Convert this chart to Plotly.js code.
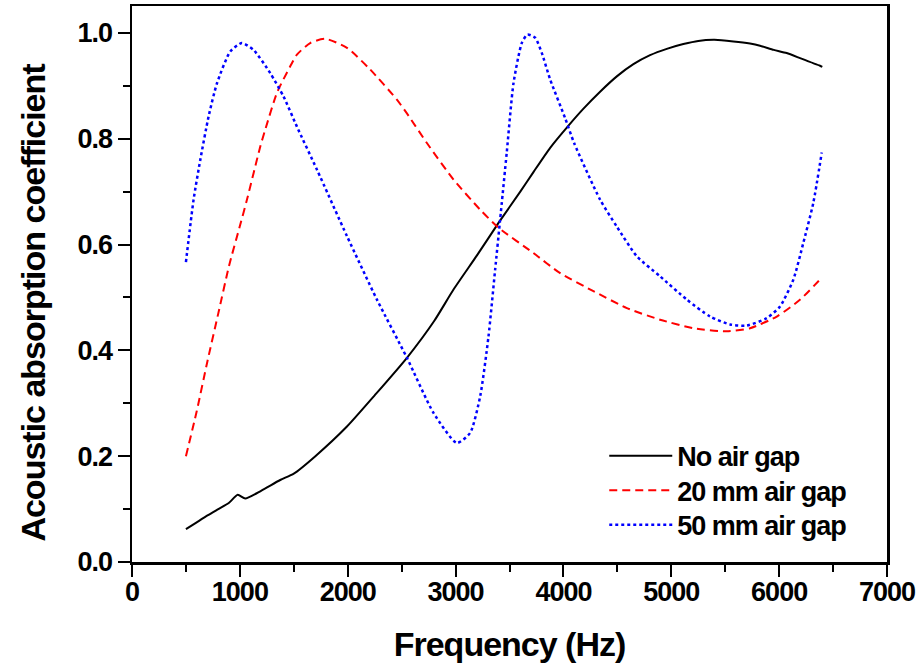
<!DOCTYPE html>
<html>
<head>
<meta charset="utf-8">
<script src="https://cdn.plot.ly/plotly-3.0.1.min.js"></script>
<style>
html,body{margin:0;padding:0;background:#fff;}
#chart{width:922px;height:663px;}
.xtitle, .ytitle { letter-spacing: -1px; }
.xtick text, .ytick text { letter-spacing: -1px; }
.legendtext { letter-spacing: -1px; }
</style>
</head>
<body>
<div id="chart"></div>
<script>
// No air gap
const freqNoGap = [500,600,700,800,900,980,1050,1200,1374,1500,1700,1993,2250,2549,2800,2981,3200,3398,3600,3722,3877,4047,4186,4340,4495,4649,4803,4958,5112,5250,5400,5576,5730,5823,5950,6070,6200,6379,6400];
const alphaNoGap = [0.062,0.075,0.088,0.100,0.112,0.127,0.120,0.135,0.155,0.167,0.200,0.256,0.315,0.386,0.455,0.515,0.580,0.641,0.700,0.737,0.783,0.825,0.857,0.889,0.918,0.941,0.958,0.970,0.979,0.985,0.987,0.984,0.980,0.976,0.968,0.962,0.952,0.938,0.936];

// 20 mm air gap
const freq20 = [500,600,700,800,900,1000,1066,1190,1235,1344,1467,1529,1652,1791,1993,2208,2456,2549,2734,2981,3228,3398,3722,3970,4278,4588,4896,5205,5514,5730,5978,6195,6380,6400];
const alpha20 = [0.200,0.285,0.380,0.470,0.560,0.635,0.685,0.786,0.817,0.887,0.937,0.959,0.981,0.989,0.972,0.931,0.874,0.848,0.792,0.723,0.666,0.632,0.584,0.546,0.512,0.480,0.458,0.442,0.436,0.442,0.464,0.496,0.534,0.538];

// 50 mm air gap
const freq50 = [500,571,633,710,788,911,1019,1127,1282,1405,1529,1714,1993,2271,2549,2795,3012,3135,3228,3305,3367,3413,3475,3537,3614,3666,3738,3800,3877,4016,4099,4340,4495,4680,4896,5144,5360,5545,5700,5885,6008,6132,6224,6317,6395];
const alpha50 = [0.567,0.685,0.760,0.842,0.905,0.965,0.981,0.968,0.924,0.880,0.823,0.742,0.616,0.496,0.386,0.282,0.225,0.244,0.313,0.426,0.553,0.647,0.775,0.905,0.981,0.997,0.991,0.962,0.912,0.839,0.792,0.685,0.634,0.578,0.540,0.496,0.464,0.449,0.447,0.461,0.483,0.534,0.603,0.679,0.774];

const seriesNames = ["No air gap","20 mm air gap","50 mm air gap"];
const xTicks = [0,1000,2000,3000,4000,5000,6000,7000];
const yTicks = [0.0,0.2,0.4,0.6,0.8,1.0];

const FONT = '"Liberation Sans", Arial, sans-serif';

const traces = [
  {x: freqNoGap, y: alphaNoGap, name: seriesNames[0], mode: 'lines',
   line: {color: '#000000', width: 2, shape: 'spline', smoothing: 0.6}},
  {x: freq20, y: alpha20, name: seriesNames[1], mode: 'lines',
   line: {color: '#ff0000', width: 2, dash: '8px,5px', shape: 'spline', smoothing: 0.6}},
  {x: freq50, y: alpha50, name: seriesNames[2], mode: 'lines',
   line: {color: '#0000ff', width: 2.5, dash: 'dot', shape: 'spline', smoothing: 0.6}}
];

const layout = {
  width: 922, height: 663,
  margin: {l: 132, r: 35, t: 6, b: 101},
  paper_bgcolor: '#ffffff', plot_bgcolor: '#ffffff',
  font: {family: FONT, color: '#000000', size: 27, weight: 'bold'},
  showlegend: true,
  legend: {x: 0.6255, y: 0.2345, xanchor: 'left', yanchor: 'top',
           bgcolor: 'rgba(0,0,0,0)', borderwidth: 0, itemwidth: 63,
           font: {family: FONT, size: 27, color: '#000', weight: 'bold'},
           tracegroupgap: 0},
  xaxis: {
    range: [0, 7000], tickvals: xTicks, ticktext: xTicks.map(String),
    ticks: 'outside', ticklen: 12, tickwidth: 2, tickcolor: '#000',
    minor: {dtick: 500, ticks: 'outside', ticklen: 7, tickwidth: 2, tickcolor: '#000'},
    showline: true, linecolor: '#000', linewidth: 2.5, mirror: true,
    showgrid: false, zeroline: false,
    tickfont: {family: FONT, size: 27, color: '#000', weight: 'bold'},
    title: {text: 'Frequency (Hz)', font: {family: FONT, size: 34, color: '#000', weight: 'bold'}, standoff: 22}
  },
  yaxis: {
    range: [0, 1.051], tickvals: yTicks, ticktext: yTicks.map(v => v.toFixed(1)),
    ticks: 'outside', ticklen: 12, tickwidth: 2, tickcolor: '#000',
    minor: {dtick: 0.1, ticks: 'outside', ticklen: 7, tickwidth: 2, tickcolor: '#000'},
    showline: true, linecolor: '#000', linewidth: 2.5, mirror: true,
    showgrid: false, zeroline: false,
    tickfont: {family: FONT, size: 27, color: '#000', weight: 'bold'},
    title: {text: 'Acoustic absorption coefficient', font: {family: FONT, size: 34, color: '#000', weight: 'bold'}, standoff: 22}
  }
};

function tweak(gd) {
  // tighter legend row spacing, as in the reference
  var items = gd.querySelectorAll('.legend .traces');
  items.forEach(function (g, i) {
    var t = g.getAttribute('transform') || '';
    var m = /translate\(\s*([-\d.]+)[ ,]+([-\d.]+)\s*\)/.exec(t);
    if (m && !g.dataset.done) {
      g.setAttribute('transform', 'translate(' + m[1] + ',' + (parseFloat(m[2]) - i * 3.5) + ')');
      g.dataset.done = '1';
    }
  });
  // x tick labels slightly closer to the axis
  gd.querySelectorAll('g.xtick').forEach(function (g) {
    if (!g.dataset.done) {
      var t = g.getAttribute('transform') || '';
      g.setAttribute('transform', 'translate(0,-8) ' + t);
      g.dataset.done = '1';
    }
  });
  var yt = gd.querySelector('.g-ytitle');
  if (yt) yt.setAttribute('transform', 'translate(0,19)');
}

Plotly.newPlot('chart', traces, layout, {displayModeBar: false, staticPlot: true}).then(function (gd) {
  tweak(gd);
  setTimeout(function () { tweak(gd); }, 50);
});
</script>
</body>
</html>
